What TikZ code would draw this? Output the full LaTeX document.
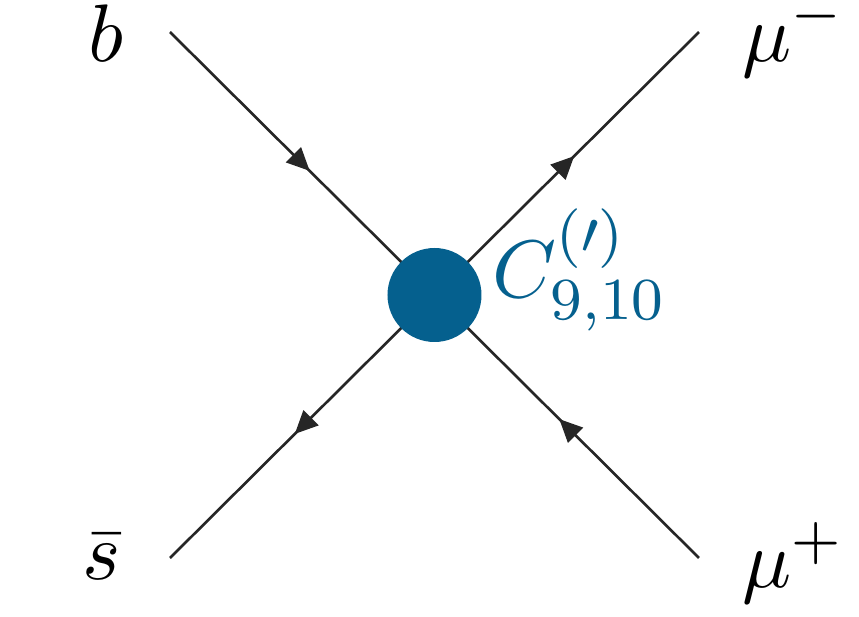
\documentclass[tikz,border=0pt]{standalone}
\usepackage{tikz}
\definecolor{blobblue}{HTML}{05608E}
\usetikzlibrary{%
    arrows.meta,
    decorations.markings,
    positioning,
}
\tikzset{%
    base/.style = {
        font=\fontsize{10.95}{13.6}\selectfont,
        scale=2.12,
        transform shape,
        inner sep=0pt,
        anchor=base,
    },
    fermion/.style = {
        line width=0.75pt,
        draw=black!85,
        postaction={decorate},
        decoration={markings,
            mark=at position 0.53 with {\arrow{Triangle[length=2.3mm,width=2.1mm]}}},
    },
    blob/.style = {
        circle,
        fill=blobblue,
        minimum size=0.94cm,
        inner sep=0pt,
    },
    coupling/.style = {
        base,
        anchor=base west,
        text=blobblue,
    },
}

\begin{document}
\begin{tikzpicture}
    \useasboundingbox (0,0) rectangle (8.59,6.17);
    \coordinate (bq)  at (1.70,5.85);
    \coordinate (mum) at (6.99,5.85);
    \coordinate (sq)  at (1.70,0.59);
    \coordinate (mup) at (6.99,0.59);
    \coordinate (vtx) at (4.345,3.22);

    \draw [fermion] (bq) -- (vtx);
    \draw [fermion] (vtx) -- (mum);
    \draw [fermion] (vtx) -- (sq);
    \draw [fermion] (mup) -- (vtx);

    \node [blob] (v) at (vtx) {};
    \node [coupling] (coup) at (4.91,3.20) {$C^{(\prime)}_{9,10}$};

    \node [base] (blabel) at (1.06,5.56) {$b$};
    \node [base] (mumlabel) at (7.935,5.56) {$\mu^-$};
    \node [base] (slabel) at (1.02,0.37) {$\bar{s}$};
    \node [base] (muplabel) at (7.935,0.29) {$\mu^+$};
\end{tikzpicture}
\end{document}
